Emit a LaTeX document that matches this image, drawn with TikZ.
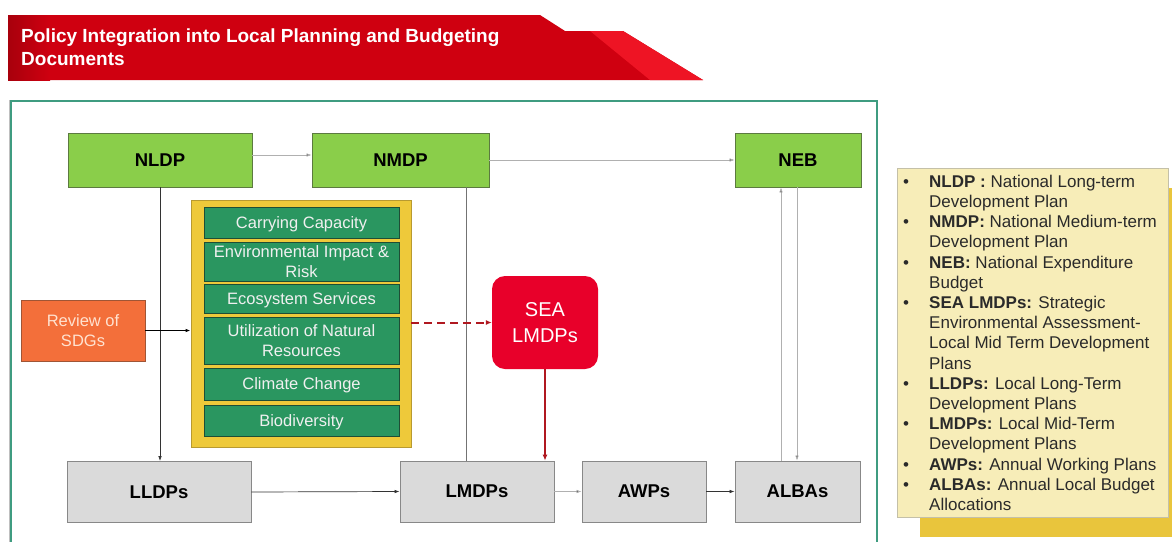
\documentclass[tikz,border=0pt]{standalone}
\usepackage{fontspec}
\setmainfont{Liberation Sans}
\usetikzlibrary{arrows.meta}
\definecolor{titlered}{HTML}{CF0010}
\definecolor{titledark}{HTML}{A8000C}
\definecolor{titlelight}{HTML}{EE1424}
\definecolor{frameteal}{HTML}{3F9C80}
\definecolor{topgreen}{HTML}{8ACE4A}
\definecolor{topgreenborder}{HTML}{5C7A40}
\definecolor{goldbox}{HTML}{EEC93A}
\definecolor{goldborder}{HTML}{B89A30}
\definecolor{itemgreen}{HTML}{2A9660}
\definecolor{itemborder}{HTML}{1E4E36}
\definecolor{sdgorange}{HTML}{F36F3A}
\definecolor{sdgborder}{HTML}{A05535}
\definecolor{sdgtext}{HTML}{FFE2D0}
\definecolor{seared}{HTML}{E8002A}
\definecolor{darkred}{HTML}{B01820}
\definecolor{graybox}{HTML}{DADADA}
\definecolor{grayborder}{HTML}{888888}
\definecolor{legendfill}{HTML}{F7EDB8}
\definecolor{legendborder}{HTML}{C4C0A8}
\definecolor{legendshadow}{HTML}{E9C53C}
\definecolor{lightline}{HTML}{B0B0B0}
\definecolor{legendtextcol}{HTML}{2A2A2A}
\tikzset{
  topbox/.style={draw=topgreenborder, fill=topgreen, line width=0.8pt, minimum height=54pt, inner sep=0pt, font=\fontsize{18.5}{22}\selectfont\bfseries},
  lowbox/.style={draw=grayborder, fill=graybox, line width=0.8pt, minimum height=61pt, inner sep=0pt, font=\fontsize{18.5}{22}\selectfont\bfseries},
  itembox/.style={draw=itemborder, fill=itemgreen, line width=0.7pt, minimum width=195pt, inner sep=0pt, text depth=0pt, text=white!94!black, align=center, font=\fontsize{16.5}{20}\selectfont},
  conn/.style={draw=black!80, line width=0.7pt, -{Latex[length=5pt,width=3.5pt]}},
  conngray/.style={draw=lightline, line width=0.7pt, -{Latex[length=5pt,width=3.5pt,fill=black]}},
  plainline/.style={draw=black!55, line width=0.7pt},
  redconn/.style={draw=darkred, line width=1.5pt, -{Latex[length=6pt,width=5pt]}},
  reddash/.style={draw=darkred, line width=2pt, dash pattern=on 8pt off 5pt, -{Latex[length=6pt,width=5pt]}},
}
\begin{document}
\begin{tikzpicture}[x=1pt,y=-1pt]
\useasboundingbox (0,0) rectangle (1172,541);
\fill[white] (0,0) rectangle (1172,541);
% title banner
\fill[titlered] (8,15) -- (540,15) -- (565,31) -- (623,31) -- (703,80) -- (8,80) -- cycle;
\fill[titlelight] (590,31) -- (623,31) -- (703,80) -- (650,80) -- cycle;
\shade[left color=titledark, right color=titlered] (8,15) rectangle (50,80);
\node[anchor=base west, inner sep=0pt, text=white, font=\fontsize{19}{23}\selectfont\bfseries] (title1) at (21,42) {Policy Integration into Local Planning and Budgeting};
\node[anchor=base west, inner sep=0pt, text=white, font=\fontsize{19}{23}\selectfont\bfseries] (title2) at (21,65) {Documents};
% frame
\draw[black!25, line width=1pt] (9,100) -- (9,545);
\draw[frameteal, line width=2.2pt] (11,101) rectangle (877,548);
% top row
\node[topbox, minimum width=184pt] (nldp) at (160,160) {NLDP};
\node[topbox, minimum width=177pt] (nmdp) at (400.5,160) {NMDP};
\node[topbox, minimum width=126pt] (neb) at (798,160) {NEB};
% bottom row
\node[lowbox, minimum width=184pt] (lldps) at (159,492) {LLDPs};
\node[lowbox, minimum width=154pt] (lmdps) at (477,491.5) {LMDPs};
\node[lowbox, minimum width=124pt] (awps) at (644,491.5) {AWPs};
\node[lowbox, minimum width=125pt] (albas) at (797.5,491.5) {ALBAs};
% yellow container
\node[draw=goldborder, fill=goldbox, line width=0.8pt, minimum width=220pt, minimum height=247pt, inner sep=0pt] (ybox) at (301,323.5) {};
\node[itembox, minimum height=31pt] (cc) at (301.5,222.5) {Carrying Capacity};
\node[itembox, minimum height=39pt] (eir) at (301.5,261.5) {Environmental Impact \&\\Risk};
\node[itembox, minimum height=29pt] (es) at (301.5,298.5) {Ecosystem Services};
\node[itembox, minimum height=47pt] (unr) at (301.5,340.5) {Utilization of Natural\\Resources};
\node[itembox, minimum height=32pt] (cch) at (301.5,384) {Climate Change};
\node[itembox, minimum height=31pt] (bio) at (301.5,420.5) {Biodiversity};
% review of SDGs
\node[draw=sdgborder, fill=sdgorange, line width=0.7pt, minimum width=124pt, minimum height=61pt, inner sep=0pt, text=sdgtext, align=center, font=\fontsize{16.5}{20}\selectfont] (review) at (83,330.5) {Review of\\SDGs};
% SEA LMDPs
\node[fill=seared, rounded corners=13pt, minimum width=106pt, minimum height=93pt, inner sep=0pt, text=white, align=center, font=\fontsize{20}{26}\selectfont] (sea) at (545,322.5) {SEA\\LMDPs};
% connectors
\draw[conngray] ([yshift=5pt]nldp.east) -- ([yshift=5pt]nmdp.west);
\draw[conngray] (nmdp.east) -- (neb.west);
\draw[conn] (nldp.south) -- (nldp.south |- lldps.north);
\draw[plainline] ([xshift=65.5pt]nmdp.south) -- ([xshift=65.5pt]nmdp.south |- lmdps.north);
\draw[conn, line width=1.2pt, draw=black] (review.east) -- (ybox.west |- review.east);
\draw[reddash] (sea.west -| ybox.east) -- (sea.west);
\draw[redconn] (sea.south) -- (sea.south |- lmdps.north);
\draw[conn] (lldps.east) -- (lmdps.west);
\draw[conngray] (lmdps.east) -- (awps.west);
\draw[conn] (awps.east) -- (albas.west);
\draw[conngray] ([xshift=-16.5pt]albas.north) -- ([xshift=-16.5pt]albas.north |- neb.south);
\draw[conngray] ([xshift=-1pt]neb.south) -- ([xshift=-1pt]neb.south |- albas.north);
% legend
\fill[legendshadow] (920,188) rectangle (1172,537);
\node[draw=legendborder, fill=legendfill, line width=0.6pt, minimum width=271pt, minimum height=349pt, inner sep=0pt] (legend) at (1032.5,342.5) {};
\node[anchor=north west, inner sep=0pt, text=legendtextcol, font=\fontsize{17}{20.2}\selectfont] (legendtext) at (903,173) {%
\begin{tabular}{@{}p{26pt}@{}l@{}}
\textbullet & \textbf{NLDP :} National Long-term\\
 & Development Plan\\
\textbullet & \textbf{NMDP:} National Medium-term\\
 & Development Plan\\
\textbullet & \textbf{NEB:} National Expenditure\\
 & Budget\\
\textbullet & \textbf{SEA LMDPs:} Strategic\\
 & Environmental Assessment-\\
 & Local Mid Term Development\\
 & Plans\\
\textbullet & \textbf{LLDPs:} Local Long-Term\\
 & Development Plans\\
\textbullet & \textbf{LMDPs:} Local Mid-Term\\
 & Development Plans\\
\textbullet & \textbf{AWPs:} Annual Working Plans\\
\textbullet & \textbf{ALBAs:} Annual Local Budget\\
 & Allocations
\end{tabular}};
\end{tikzpicture}
\end{document}
